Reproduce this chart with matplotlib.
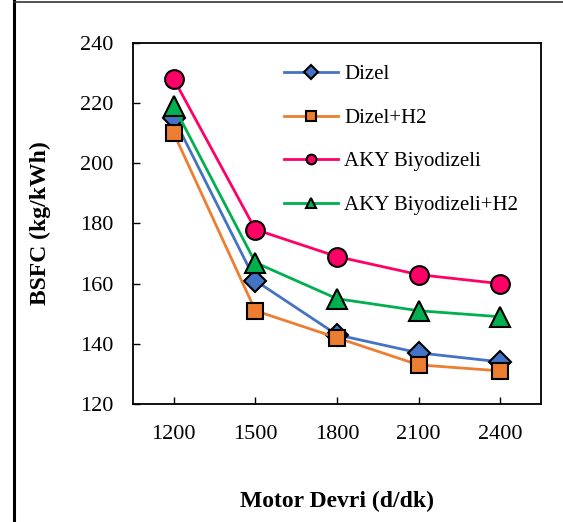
import matplotlib.pyplot as plt
from matplotlib.lines import Line2D

plt.rcParams['font.family'] = ['Liberation Serif', 'DejaVu Serif']

speeds = ['1200', '1500', '1800', '2100', '2400']
dizel = [215, 161, 143, 137, 134]
dizel_h2 = [210, 151, 142, 133, 131]
aky = [228, 178, 169, 163, 160]
aky_h2 = [219, 167, 155, 151, 149]

series = [
    ('Dizel', dizel, '#4472C4', 'D', 11),
    ('Dizel+H2', dizel_h2, '#ED7D31', 's', 11),
    ('AKY Biyodizeli', aky, '#FF0066', 'o', 13.5),
    ('AKY Biyodizeli+H2', aky_h2, '#00B050', '^', 14),
]

fig = plt.figure(figsize=(5.63, 5.22), dpi=100)
ax = fig.add_axes([0.2362, 0.2261, 0.7248, 0.6915])

x = range(len(speeds))
handles = []
for name, vals, col, mk, ms in series:
    ax.plot(x, vals, color=col, lw=2, marker=mk, markersize=ms,
            markerfacecolor=col, markeredgecolor='black', markeredgewidth=1.5)
    handles.append(Line2D([], [], color=col, lw=2, marker=mk, markersize=7,
                          markerfacecolor=col, markeredgecolor='black',
                          markeredgewidth=1.5))

ax.set_xlim(-0.5, 4.5)
ax.set_ylim(120, 240)
ax.set_yticks(range(120, 241, 20))
ax.set_xticks(list(x))
ax.set_xticklabels(speeds)
ax.tick_params(direction='in', labelsize=16, length=5, width=1)
ax.tick_params(axis='x', pad=15)
ax.tick_params(axis='y', pad=14)
for sp in ax.spines.values():
    sp.set_linewidth(1.3)

ax.set_ylabel('BSFC (kg/kWh)', fontsize=17, fontweight='bold', labelpad=21)
ax.set_xlabel('Motor Devri (d/dk)', fontsize=17, fontweight='bold', labelpad=34)

ax.legend(handles, [s[0] for s in series], loc='upper left',
          bbox_to_anchor=(0.37, 0.94), frameon=False, fontsize=15,
          handlelength=2.6, handletextpad=0.3, labelspacing=1.15,
          borderaxespad=0, borderpad=0)

# outer frame edges seen in the cropped source
fig.add_artist(Line2D([0.024, 0.024], [0, 1], color='black', lw=2.2,
                      transform=fig.transFigure))
fig.add_artist(Line2D([0.024, 1], [0.997, 0.997], color='#333333', lw=1.2,
                      transform=fig.transFigure))

fig.savefig('out.png', dpi=100)
